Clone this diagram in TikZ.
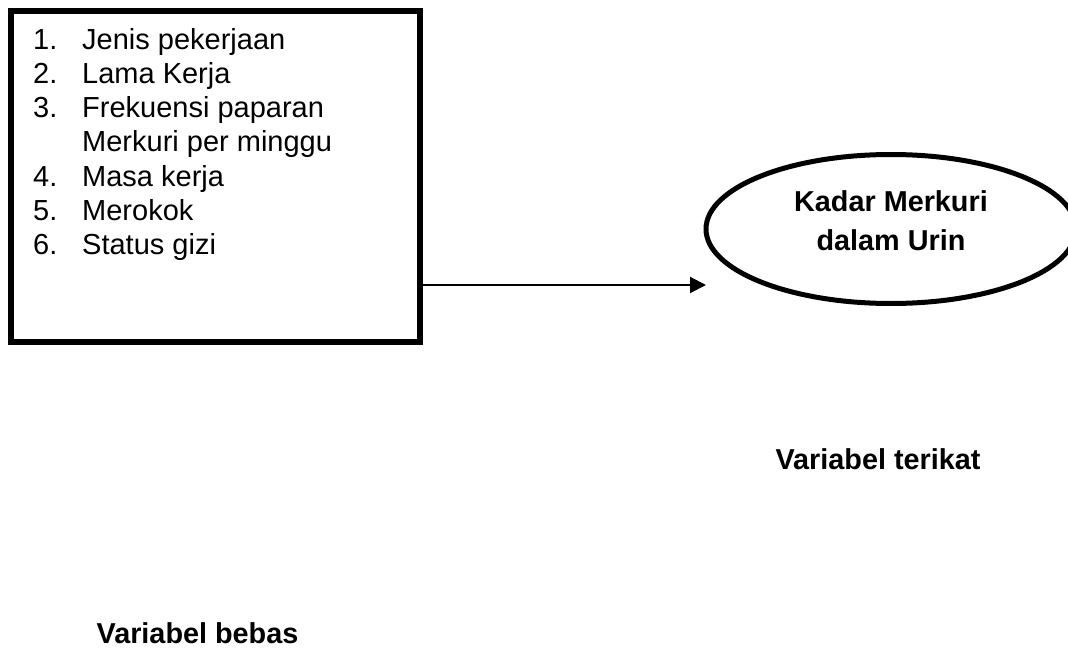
\documentclass[tikz,border=0pt]{standalone}
\usepackage{fontspec}
\setmainfont{Liberation Sans}
\usetikzlibrary{shapes.geometric,arrows.meta}
\tikzset{
  listtext/.style={anchor=base west, inner sep=0pt, font=\fontsize{29}{34}\selectfont},
  boldtext/.style={anchor=base, inner sep=0pt, font=\bfseries\fontsize{28.8}{38}\selectfont},
  varbox/.style={draw, line width=6.5pt, minimum width=409pt, minimum height=331pt, inner sep=0pt},
  varell/.style={draw, ellipse, line width=5pt, minimum width=370pt, minimum height=149pt, inner sep=0pt},
  conn/.style={line width=2pt, -{Triangle[length=16pt,width=16pt]}}
}
\begin{document}
\begin{tikzpicture}[x=1pt,y=-1pt]
\useasboundingbox[fill=white] (0,0) rectangle (1068,650);
\node[varbox] (box) at (215.5,176.5) {};
\node[listtext] (n1) at (33,50) {1.};
\node[listtext] (t1) at (82,50) {Jenis pekerjaan};
\node[listtext] (n2) at (33,84) {2.};
\node[listtext] (t2) at (82,84) {Lama Kerja};
\node[listtext] (n3) at (33,118) {3.};
\node[listtext] (t3) at (82,118) {Frekuensi paparan};
\node[listtext] (t3b) at (82,152) {Merkuri per minggu};
\node[listtext] (n4) at (33,186) {4.};
\node[listtext] (t4) at (82,186) {Masa kerja};
\node[listtext] (n5) at (33,220) {5.};
\node[listtext] (t5) at (82,220) {Merokok};
\node[listtext] (n6) at (33,254) {6.};
\node[listtext] (t6) at (82,254) {Status gizi};
\node[varell] (ell) at (891,229) {};
\node[boldtext] (e1) at (891,211) {Kadar Merkuri};
\node[boldtext] (e2) at (891,250) {dalam Urin};
\coordinate (tip) at (706,285);
\draw[conn] (box.east |- tip) -- (tip);
\node[boldtext] (vt) at (878,469) {Variabel terikat};
\node[boldtext] (vb) at (197.5,643) {Variabel bebas};
\end{tikzpicture}
\end{document}
